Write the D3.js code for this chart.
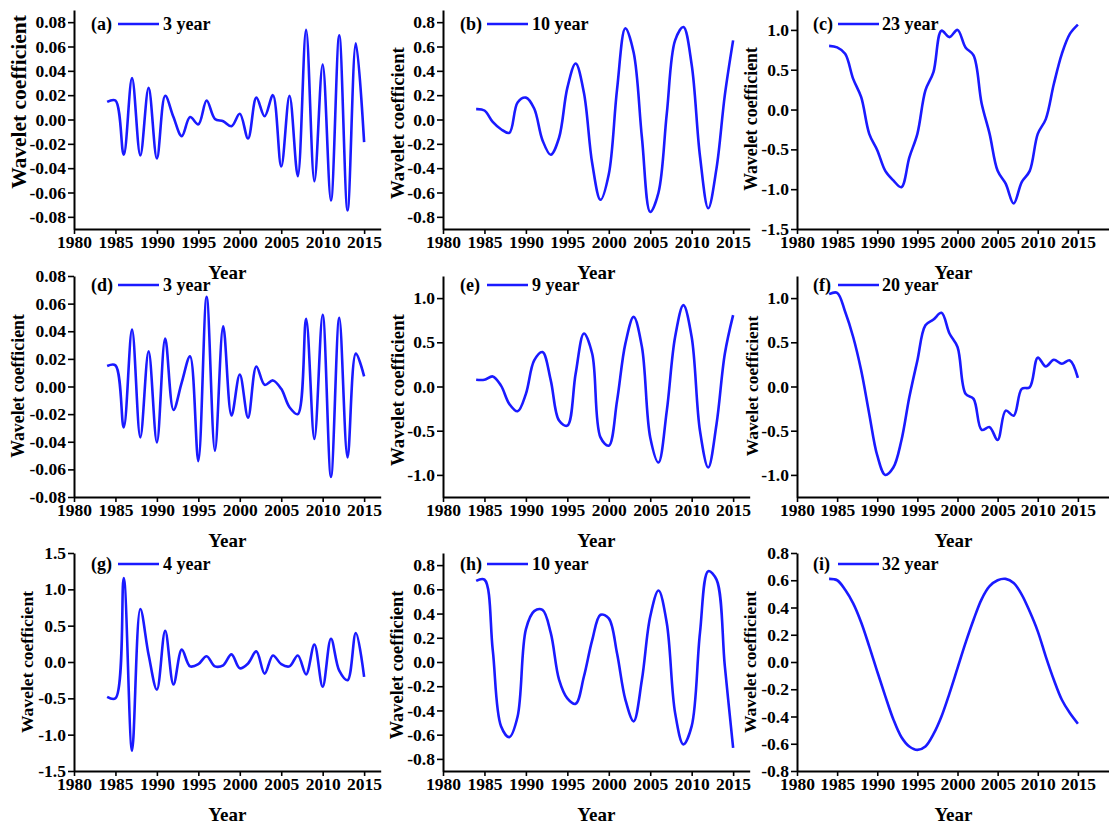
<!DOCTYPE html>
<html>
<head>
<meta charset="utf-8">
<script src="https://cdn.jsdelivr.net/npm/d3@7"></script>
<style>
  body { margin: 0; background: #fff; }
  svg { display: block; }
  svg text { font-family: "Liberation Serif", "Times New Roman", serif; font-weight: bold; }
</style>
</head>
<body>
<div id="main"></div>
<script>
var years = d3.range(1984, 2016);
var yearTicks = [1980, 1985, 1990, 1995, 2000, 2005, 2010, 2015];
var letters = ["a", "b", "c", "d", "e", "f", "g", "h", "i"];
var periods = [3, 10, 23, 3, 9, 20, 4, 10, 32];

// wavelet coefficients, one value per year 1984..2015
var coefA = [0.0145, 0.0156, -0.029, 0.034, -0.0296, 0.026, -0.032, 0.0195, 0.002, -0.0137,
  0.002, -0.004, 0.0156, 0.0005, -0.0014, -0.0055, 0.0047, -0.0156, 0.018, 0.0027,
  0.020, -0.0386, 0.0195, -0.0466, 0.0737, -0.0507, 0.0452, -0.0666, 0.0693, -0.0748,
  0.0627, -0.0186];
var coefB = [0.085, 0.074, -0.02, -0.08, -0.11, 0.14, 0.18, 0.09, -0.17, -0.29,
  -0.15, 0.26, 0.46, 0.22, -0.36, -0.66, -0.45, 0.25, 0.75, 0.55,
  -0.15, -0.76, -0.6, 0.05, 0.65, 0.76, 0.45, -0.3, -0.73, -0.4,
  0.2, 0.65];
var coefC = [0.80, 0.78, 0.70, 0.385, 0.155, -0.305, -0.51, -0.77, -0.89, -0.975,
  -0.60, -0.305, 0.24, 0.47, 0.99, 0.91, 1.0, 0.78, 0.68, 0.08,
  -0.305, -0.77, -0.93, -1.18, -0.91, -0.77, -0.305, -0.12, 0.32, 0.70,
  0.95, 1.067];
var coefD = [0.0148, 0.0153, -0.0296, 0.0412, -0.0368, 0.0255, -0.0405, 0.0347, -0.017, 0.003,
  0.0218, -0.054, 0.065, -0.0465, 0.0436, -0.021, 0.0087, -0.0225, 0.0145, 0.0012,
  0.0044, -0.0017, -0.015, -0.02, 0.049, -0.038, 0.052, -0.0655, 0.0497, -0.0514,
  0.0238, 0.0073];
var coefE = [0.076, 0.076, 0.114, 0.01, -0.197, -0.28, -0.083, 0.295, 0.39, 0.07,
  -0.386, -0.443, 0.144, 0.6, 0.37, -0.576, -0.67, -0.16, 0.485, 0.788,
  0.447, -0.576, -0.86, -0.273, 0.56, 0.92, 0.56, -0.5, -0.917, -0.424,
  0.37, 0.807];
var coefF = [1.045, 1.06, 0.845, 0.56, 0.18, -0.31, -0.78, -1.0, -0.917, -0.614,
  -0.12, 0.295, 0.693, 0.757, 0.833, 0.6, 0.447, -0.083, -0.14, -0.49,
  -0.46, -0.606, -0.273, -0.33, -0.027, -0.008, 0.326, 0.227, 0.303, 0.258,
  0.295, 0.098];
var coefG = [-0.48, -0.50, 1.155, -1.22, 0.73, 0.1, -0.38, 0.43, -0.31, 0.17,
  -0.06, -0.03, 0.08, -0.06, -0.045, 0.105, -0.087, -0.02, 0.146, -0.16,
  0.09, -0.03, -0.06, 0.09, -0.17, 0.24, -0.34, 0.32, -0.12, -0.25,
  0.40, -0.205];
var coefH = [0.67, 0.68, 0.10, -0.53, -0.62, -0.45, 0.27, 0.42, 0.43, 0.24,
  -0.145, -0.30, -0.345, -0.12, 0.18, 0.39, 0.36, 0.07, -0.31, -0.49,
  -0.145, 0.375, 0.59, 0.32, -0.42, -0.68, -0.53, 0.24, 0.75, 0.68,
  -0.035, -0.71];
var coefI = [0.61, 0.60, 0.53, 0.43, 0.29, 0.115, -0.07, -0.25, -0.42, -0.55,
  -0.62, -0.645, -0.62, -0.53, -0.40, -0.23, -0.045, 0.14, 0.31, 0.46,
  0.556, 0.60, 0.61, 0.58, 0.495, 0.37, 0.225, 0.04, -0.13, -0.277,
  -0.375, -0.453];
var series = [coefA, coefB, coefC, coefD, coefE, coefF, coefG, coefH, coefI];

// y axis ranges and tick labels
var yDomains = [[-0.09, 0.09], [-0.9, 0.9], [-1.5, 1.25], [-0.08, 0.08], [-1.25, 1.25],
  [-1.25, 1.25], [-1.5, 1.5], [-0.9, 0.9], [-0.8, 0.8]];
var ticksSmall = [-0.08, -0.06, -0.04, -0.02, 0, 0.02, 0.04, 0.06, 0.08];
var ticksTenths = [-0.8, -0.6, -0.4, -0.2, 0, 0.2, 0.4, 0.6, 0.8];
var ticksHalf = [-1.0, -0.5, 0, 0.5, 1.0];
var ticksHalfWide = [-1.5, -1.0, -0.5, 0, 0.5, 1.0, 1.5];
var ticksC = [-1.5, -1.0, -0.5, 0, 0.5, 1.0];
var yTicks = [ticksSmall, ticksTenths, ticksC, ticksSmall, ticksHalf, ticksHalf, ticksHalfWide, ticksTenths, ticksTenths];
var yDigits = [2, 1, 1, 2, 1, 1, 1, 1, 1];

// layout
var cols = [
  {x: 74, w: 306.7, end: 2017, lg: [17, 44, 85, 89]},
  {x: 443, w: 306.7, end: 2017, lg: [17, 44, 85, 89]},
  {x: 797, w: 313, end: 2019, lg: [16, 41, 82, 85]}
];
var rows = [
  {top: 10, bottom: 229, legend: 24},
  {top: 276, bottom: 497, legend: 285},
  {top: 553, bottom: 771, legend: 564}
];
var titleOff = [56, 46, 46, 56, 46, 45, 47, 46, 47];
var titleY = [102, 123, 119, 386, 390, 386, 662, 665, 662];
var titleSize = [21.5, 18.8, 17.8, 17.8, 18.8, 17.4, 17.6, 18.4, 17.6];

var lineColor = "#1a1aff";
var serif = '"Liberation Serif", "Times New Roman", serif';

var svg = d3.select("#main").append("svg")
  .attr("width", 1109)
  .attr("height", 824);

var fmt = function(p) {
  var f = d3.format("." + p + "f");
  return function(d) { return f(d).replace("\u2212", "-"); };
};

var styleAxis = function(g) {
  g.attr("font-family", serif).attr("font-weight", "bold").attr("font-size", 17.5);
  g.select(".domain").attr("stroke", "#000").attr("stroke-width", 2);
  g.selectAll(".tick line").attr("stroke", "#000").attr("stroke-width", 1.6);
  g.selectAll(".tick text").attr("fill", "#000");
};

series.forEach(function(vals, i) {
  var col = cols[i % 3], row = rows[Math.floor(i / 3)];
  var g = svg.append("g");

  var x = d3.scaleLinear().domain([1980, col.end]).range([col.x, col.x + col.w]);
  var y = d3.scaleLinear().domain(yDomains[i]).range([row.bottom, row.top]);

  g.append("g")
    .attr("transform", "translate(0," + row.bottom + ")")
    .call(d3.axisBottom(x).tickValues(yearTicks).tickFormat(d3.format("d"))
      .tickSize(5).tickPadding(2).tickSizeOuter(0))
    .call(styleAxis);

  g.append("g")
    .attr("transform", "translate(" + col.x + ",0)")
    .call(d3.axisLeft(y).tickValues(yTicks[i]).tickFormat(fmt(yDigits[i]))
      .tickSize(6).tickPadding(2).tickSizeOuter(0))
    .call(styleAxis);

  var line = d3.line()
    .x(function(d, j) { return x(years[j]); })
    .y(function(d) { return y(d); })
    .curve(d3.curveCatmullRom.alpha(0.5));

  g.append("path")
    .datum(vals)
    .attr("d", line)
    .attr("fill", "none")
    .attr("stroke", lineColor)
    .attr("stroke-width", 2.6)
    .attr("stroke-linejoin", "round");

  // legend
  g.append("text")
    .attr("x", col.x + col.lg[0])
    .attr("y", row.legend + 6)
    .attr("font-size", 18)
    .text("(" + letters[i] + ")");
  g.append("line")
    .attr("x1", col.x + col.lg[1]).attr("x2", col.x + col.lg[2])
    .attr("y1", row.legend).attr("y2", row.legend)
    .attr("stroke", lineColor).attr("stroke-width", 2.6);
  g.append("text")
    .attr("x", col.x + col.lg[3])
    .attr("y", row.legend + 6)
    .attr("font-size", 18)
    .text(periods[i] + " year");

  // axis titles
  g.append("text")
    .attr("x", col.x + col.w / 2)
    .attr("y", row.bottom + 50)
    .attr("text-anchor", "middle")
    .attr("font-size", 19)
    .text("Year");
  g.append("text")
    .attr("transform", "translate(" + (col.x - titleOff[i]) + "," + titleY[i] + ") rotate(-90)")
    .attr("text-anchor", "middle")
    .attr("dy", "0.35em")
    .attr("font-size", titleSize[i])
    .text("Wavelet coefficient");
});
</script>
</body>
</html>
